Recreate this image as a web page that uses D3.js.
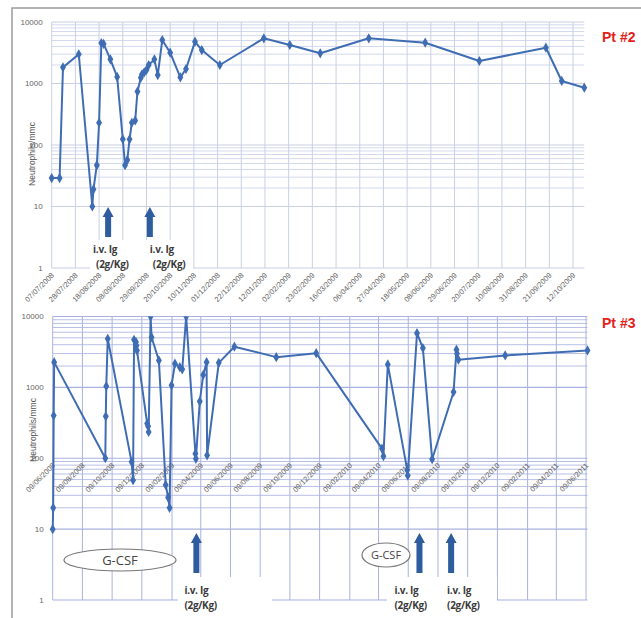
<!DOCTYPE html>
<html>
<head>
<meta charset="utf-8">
<script src="https://cdn.jsdelivr.net/npm/d3@7"></script>
<style>
  body{margin:0;background:#fff;}
  svg{display:block;font-family:"Liberation Sans",Arial,sans-serif;}
</style>
</head>
<body>
<div id="chart"></div>
<script>
// ---- data ----
const topTickLabels = ["07/07/2008","28/07/2008","18/08/2008","08/09/2008","29/09/2008","20/10/2008","10/11/2008","01/12/2008","22/12/2008","12/01/2009","02/02/2009","23/02/2009","16/03/2009","06/04/2009","27/04/2009","18/05/2009","08/06/2009","29/06/2009","20/07/2009","10/08/2009","31/08/2009","21/09/2009","12/10/2009"];
const topDates = ["2008-07-07","2008-07-14","2008-07-17","2008-07-31","2008-08-12","2008-08-13","2008-08-16","2008-08-18","2008-08-20","2008-08-22","2008-08-28","2008-09-03","2008-09-08","2008-09-10","2008-09-12","2008-09-14","2008-09-16","2008-09-19","2008-09-21","2008-09-24","2008-09-25","2008-09-27","2008-09-29","2008-10-01","2008-10-06","2008-10-09","2008-10-13","2008-10-20","2008-10-29","2008-11-03","2008-11-11","2008-11-17","2008-12-03","2009-01-11","2009-02-03","2009-03-02","2009-04-14","2009-06-03","2009-07-21","2009-09-18","2009-10-02","2009-10-22"];
const topValues = [29,29,1830,2990,10,19,47,230,4560,4400,2470,1280,124,47,57,124,230,250,740,1240,1410,1520,1660,2000,2470,1370,5100,3170,1260,1720,4790,3500,2000,5430,4230,3100,5430,4610,2320,3820,1100,855];

const botTickLabels = ["09/06/2008","09/08/2008","09/10/2008","09/12/2008","09/02/2009","09/04/2009","09/06/2009","09/08/2009","09/10/2009","09/12/2009","09/02/2010","09/04/2010","09/06/2010","09/08/2010","09/10/2010","09/12/2010","09/02/2011","09/04/2011","09/06/2011"];
const botDates = ["2008-06-09","2008-06-10","2008-06-11","2008-06-12","2008-09-25","2008-09-26","2008-09-27","2008-09-30","2008-11-18","2008-11-21","2008-11-23","2008-11-27","2008-11-28","2008-11-29","2008-12-20","2008-12-22","2008-12-23","2008-12-27","2008-12-29","2009-01-13","2009-01-27","2009-02-01","2009-02-04","2009-02-08","2009-02-15","2009-02-25","2009-03-02","2009-03-10","2009-03-29","2009-03-30","2009-04-07","2009-04-14","2009-04-21","2009-04-22","2009-05-16","2009-06-17","2009-09-11","2009-12-02","2010-04-16","2010-04-19","2010-04-28","2010-06-07","2010-06-08","2010-06-27","2010-07-09","2010-07-28","2010-09-10","2010-09-16","2010-09-17","2010-09-20","2010-12-25","2011-06-12"];
const botValues = [10,20,400,2270,100,390,1040,4850,89,49,4700,4350,3900,3320,308,282,235,10000,5100,2400,42,28,20,1070,2160,1930,1795,10000,116,98,635,1500,2270,110,2220,3750,2670,3040,137,107,2110,68,57,5820,3580,97,860,3400,2985,2455,2820,3320];

const yTicks = [1,10,100,1000,10000];
const minorTicks = [20,30,40,50,60,70,80,90,2000,3000,4000,5000,6000,7000,8000,9000];

// i.v. Ig infusions: arrow date and the text box offset from the arrow
const topIvig = ["2008-08-26","2008-10-02"];
const topIvigTextDx = [-15, 0];
const botIvig = ["2009-03-31","2010-07-02","2010-09-05"];
const botIvigTextDx = [-12, -25, -4];

const W = 641, H = 618;
const parseISO = d3.timeParse("%Y-%m-%d");
const parseLbl = d3.timeParse("%d/%m/%Y");
const LINE_COLOR = "#3f6db3";
const ARROW_COLOR = "#2f5c9e";

const svg = d3.select("#chart").append("svg").attr("width", W).attr("height", H);

// outer frame
svg.append("rect").attr("x", 12).attr("y", 8).attr("width", W).attr("height", H)
  .attr("fill", "none").attr("stroke", "#9c9c9c").attr("stroke-width", 1.5);

function drawPanel(cfg){
  const g = svg.append("g");
  const x = d3.scaleTime().domain(cfg.domain).range([cfg.left, cfg.right]);
  const y = d3.scaleLog().domain([1, 10000]).range([cfg.bottom, cfg.top]);

  // gridlines
  g.selectAll("line.hminor").data(minorTicks).join("line")
    .attr("x1", cfg.left).attr("x2", cfg.right)
    .attr("y1", d => y(d)).attr("y2", d => y(d))
    .attr("stroke", cfg.minorColor).attr("stroke-width", 1);
  g.selectAll("line.vgrid").data(cfg.ticks).join("line")
    .attr("x1", d => x(parseLbl(d))).attr("x2", d => x(parseLbl(d)))
    .attr("y1", cfg.top).attr("y2", cfg.bottom)
    .attr("stroke", cfg.gridColor).attr("stroke-width", 1);
  g.selectAll("line.hmajor").data(yTicks).join("line")
    .attr("x1", cfg.left).attr("x2", cfg.right)
    .attr("y1", d => y(d)).attr("y2", d => y(d))
    .attr("stroke", cfg.gridColor).attr("stroke-width", 1.2);

  // y tick labels
  g.selectAll("text.ytick").data(yTicks).join("text")
    .attr("x", cfg.left - 9).attr("y", d => y(d)).attr("dy", "0.35em")
    .attr("text-anchor", "end").attr("font-size", 8).attr("fill", "#666")
    .text(d => d);

  // y title
  g.append("text")
    .attr("transform", `translate(${cfg.left - 17},${cfg.titleY}) rotate(-90)`)
    .attr("text-anchor", "middle").attr("font-size", 8.5).attr("fill", "#555")
    .text("Neutrophils/mmc");

  // x tick labels
  const ay = y(cfg.axisAt);
  g.selectAll("text.xtick").data(cfg.ticks).join("text")
    .attr("transform", d => `translate(${x(parseLbl(d)) + 1},${ay + 6}) rotate(-45)`)
    .attr("text-anchor", "end").attr("font-size", 7.5).attr("fill", "#5f5f5f")
    .attr("dy", "0.35em")
    .text(d => d);

  // series
  const pts = cfg.dates.map((d, i) => ({date: parseISO(d), v: cfg.values[i]}));
  const clipId = "clip" + cfg.id;
  svg.append("clipPath").attr("id", clipId).append("rect")
    .attr("x", cfg.left - 6).attr("y", cfg.top).attr("width", cfg.right - cfg.left + 12).attr("height", cfg.bottom - cfg.top + 6);
  const lg = g.append("g").attr("clip-path", `url(#${clipId})`);
  lg.append("path").datum(pts)
    .attr("d", d3.line().x(d => x(d.date)).y(d => y(d.v)))
    .attr("fill", "none").attr("stroke", LINE_COLOR).attr("stroke-width", 2)
    .attr("stroke-linejoin", "round");
  lg.selectAll("path.mk").data(pts).join("path")
    .attr("transform", d => `translate(${x(d.date)},${y(d.v)})`)
    .attr("d", d3.symbol(d3.symbolDiamond, 30))
    .attr("fill", LINE_COLOR);

  return {x, y, g};
}

function arrow(g, cx, y0, y1){
  const hw = 5.5, sw = 3, hh = 10;
  g.append("path")
    .attr("d", `M${cx},${y0} L${cx + hw},${y0 + hh} L${cx + sw},${y0 + hh} L${cx + sw},${y1} L${cx - sw},${y1} L${cx - sw},${y0 + hh} L${cx - hw},${y0 + hh} Z`)
    .attr("fill", ARROW_COLOR);
}

function ivigText(g, x0, y0, dx2){
  const t = g.append("text").attr("font-size", 10).attr("font-weight", "bold").attr("fill", "#3a3a3a")
    .attr("font-family", "'Open Sans', sans-serif").attr("letter-spacing", -0.3);
  t.append("tspan").attr("x", x0).attr("y", y0).text("i.v. Ig");
  t.append("tspan").attr("x", x0 + dx2).attr("y", y0 + 15).text("(2g/Kg)");
}

// ---- Pt #2 ----
const p2 = drawPanel({
  id: 2, left: 51.7, right: 584.3, top: 22, bottom: 268,
  domain: [parseISO("2008-07-07"), parseISO("2009-10-22")],
  ticks: topTickLabels, dates: topDates, values: topValues, axisAt: 1, titleY: 154,
  gridColor: "#c9d0e6", minorColor: "#d3daee"
});
const a2 = svg.append("g");
a2.append("rect").attr("x", 90).attr("y", 240).attr("width", 103).attr("height", 31).attr("fill", "#fff");
topIvig.forEach((d, i) => {
  const cx = p2.x(parseISO(d));
  arrow(a2, cx, 207, 237);
  ivigText(a2, cx + topIvigTextDx[i], 253, 3);
});
svg.append("text").attr("x", 602).attr("y", 42).attr("font-size", 14).attr("font-weight", "bold")
  .attr("fill", "#e2231a").text("Pt #2");

// ---- Pt #3 ----
const p3 = drawPanel({
  id: 3, left: 52.7, right: 587.5, top: 316.5, bottom: 600,
  domain: [parseISO("2008-06-09"), parseISO("2011-06-12")],
  ticks: botTickLabels, dates: botDates, values: botValues, axisAt: 100, titleY: 430,
  gridColor: "#a9b1e0", minorColor: "#b8bfe6"
});
const a3 = svg.append("g");
a3.append("rect").attr("x", 178).attr("y", 577).attr("width", 94).attr("height", 41).attr("fill", "#fff");
a3.append("rect").attr("x", 387).attr("y", 577).attr("width", 110).attr("height", 41).attr("fill", "#fff");
botIvig.forEach((d, i) => {
  const cx = p3.x(parseISO(d));
  arrow(a3, cx, 533, 573);
  ivigText(a3, cx + botIvigTextDx[i], 594, 0);
});
// G-CSF ellipses
[[120, 560, 56, 11, 13], [386, 555, 24, 12, 11]].forEach(([cx, cy, rx, ry, fs]) => {
  a3.append("ellipse").attr("cx", cx).attr("cy", cy).attr("rx", rx).attr("ry", ry)
    .attr("fill", "#fff").attr("stroke", "#777").attr("stroke-width", 1.2);
  a3.append("text").attr("x", cx).attr("y", cy).attr("dy", "0.36em").attr("text-anchor", "middle")
    .attr("font-size", fs).attr("fill", "#444").attr("font-family", "'Open Sans', sans-serif").text("G-CSF");
});
svg.append("text").attr("x", 602).attr("y", 328).attr("font-size", 14).attr("font-weight", "bold")
  .attr("fill", "#e2231a").text("Pt #3");
</script>
</body>
</html>
